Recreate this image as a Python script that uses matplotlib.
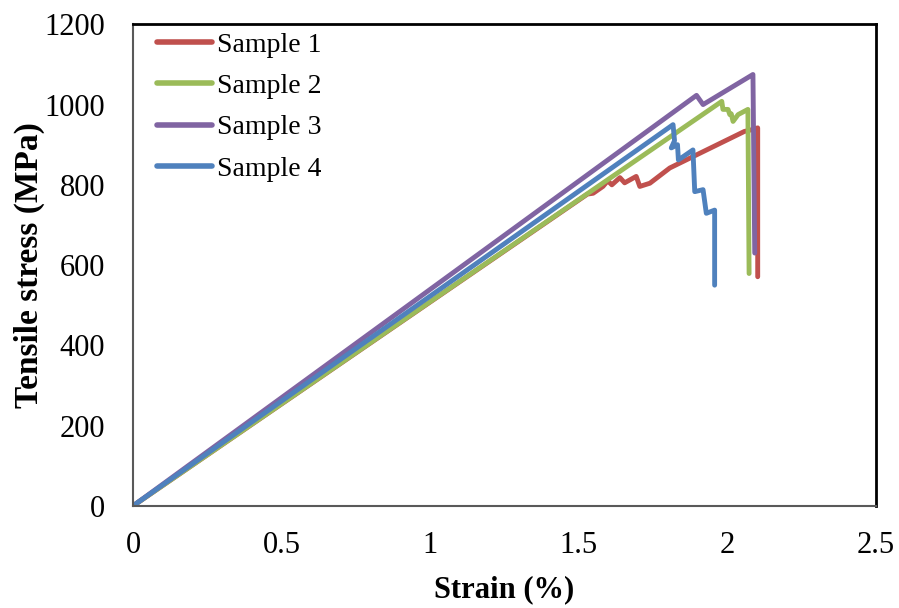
# Tensile stress-strain curves, four samples

import matplotlib
matplotlib.use('Agg')
import matplotlib.pyplot as plt
from matplotlib.ticker import FuncFormatter

# strain in %, stress in MPa
strain_1 = [0, 1.53, 1.549, 1.582, 1.598, 1.612, 1.639, 1.655, 1.694, 1.706, 1.740, 1.807, 2.058, 2.081, 2.103, 2.103]
stress_1 = [0, 777, 779, 796, 810, 800, 818, 805, 821, 796, 804, 842, 933, 937, 942, 571]

strain_2 = [0, 1.982, 1.986, 2.003, 2.009, 2.014, 2.020, 2.037, 2.070, 2.074]
stress_2 = [0, 1008, 988, 988, 975, 977, 958, 975, 988, 579]

strain_3 = [0, 1.897, 1.919, 2.087, 2.093]
stress_3 = [0, 1023, 1000, 1075, 630]

strain_4 = [0, 1.818, 1.823, 1.812, 1.833, 1.836, 1.885, 1.891, 1.919, 1.930, 1.958, 1.958]
stress_4 = [0, 950, 910, 892, 900, 862, 887, 783, 788, 729, 737, 550]

samples = (
    ('Sample 1', strain_1, stress_1, '#C0504D'),
    ('Sample 2', strain_2, stress_2, '#9BBB59'),
    ('Sample 3', strain_3, stress_3, '#8064A2'),
    ('Sample 4', strain_4, stress_4, '#4F81BD'),
)

plt.rcParams['font.family'] = ['Liberation Serif', 'DejaVu Serif']

fig = plt.figure(figsize=(8.99, 6.08), dpi=100)
ax = fig.add_axes((0.148, 0.168, 0.826, 0.792))

for name, x, y, color in samples:
    ax.plot(x, y, color=color, lw=3.5, label=name,
            solid_capstyle='round', solid_joinstyle='round')

ax.set_xlim(0, 2.5)
ax.set_ylim(0, 1200)
ax.set_xticks([0, 0.5, 1, 1.5, 2, 2.5])
ax.set_yticks(range(0, 1201, 200))
ax.xaxis.set_major_formatter(FuncFormatter(lambda v, p: '{:g}'.format(v)))
ax.tick_params(axis='both', length=0, labelsize=22)
ax.tick_params(axis='x', pad=18)
ax.tick_params(axis='y', pad=20)

for side in ('left', 'bottom'):
    ax.spines[side].set_color('#595959')
    ax.spines[side].set_linewidth(1.5)
for side in ('top', 'right'):
    ax.spines[side].set_color('black')
    ax.spines[side].set_linewidth(2)

ax.set_xlabel('Strain (%)', fontsize=22, fontweight='bold', labelpad=11)
ax.set_ylabel('Tensile stress (MPa)', fontsize=24, fontweight='bold', labelpad=0)

leg = ax.legend(loc='upper left', bbox_to_anchor=(0.012, 1.015), frameon=False,
                fontsize=20, handlelength=1.98, handletextpad=0.18,
                labelspacing=0.57, borderaxespad=0.15)
for line in leg.get_lines():
    line.set_linewidth(4)
    line.set_solid_capstyle('round')

plt.savefig('out.png', dpi=100)
plt.close()
